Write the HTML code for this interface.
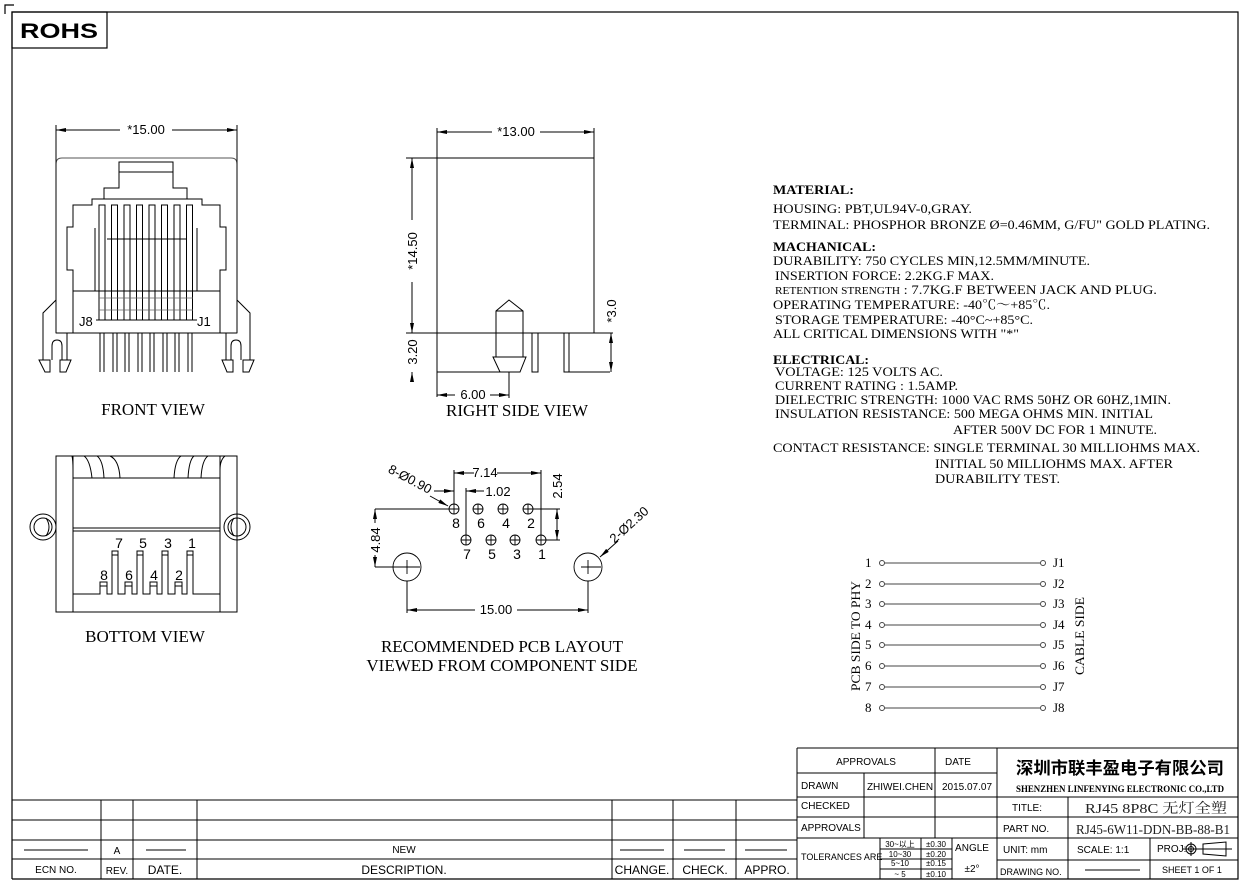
<!DOCTYPE html>
<html><head><meta charset="utf-8"><style>
html,body{margin:0;padding:0;background:#fff;}
svg{display:block;}
.s{font-family:"Liberation Serif","Noto Serif CJK SC",serif;fill:#000;}
.a{font-family:"Liberation Sans","Noto Sans CJK SC",sans-serif;fill:#000;}
</style></head><body>
<svg width="1250" height="889" viewBox="0 0 1250 889" xmlns="http://www.w3.org/2000/svg">
<defs>
<marker id="ar" viewBox="0 0 10 4" refX="10" refY="2" markerWidth="10" markerHeight="4" orient="auto-start-reverse" markerUnits="userSpaceOnUse"><path d="M0,0 L10,2 L0,4 z" fill="#000"/></marker>
</defs>
<g fill="none" stroke="#000" stroke-width="1">
<path d="M5,14 V5 H14" stroke-width="1.2"/>
<path d="M12,879 V12 H1238 V879 H12" stroke-width="1.2"/>
<rect x="12" y="12" width="95" height="36" stroke-width="1.2"/>

<line x1="56" y1="125" x2="56" y2="160"/><line x1="237" y1="125" x2="237" y2="160"/>
<line x1="56" y1="130" x2="120" y2="130" marker-start="url(#ar)"/><line x1="172" y1="130" x2="237" y2="130" marker-end="url(#ar)"/>
<path d="M56,333 V164 Q56,158 62,158 H231 Q237,158 237,164 V333 Z" stroke="#555"/>
<line x1="56" y1="333" x2="237" y2="333"/>
<line x1="56" y1="158" x2="56" y2="333"/><line x1="237" y1="158" x2="237" y2="333"/>
<path d="M73,333 V291 H220 V333"/>
<path d="M73,291 L73,270 L67,270 L67,227 L73,227 L73,205 L92,205 L92,199 L104,199 L104,188 L119,188 L119,162 L173,162 L173,188 L187,188 L187,199 L202,199 L202,205 L220,205 L220,227 L226,227 L226,270 L220,270 L220,291"/>
<line x1="119" y1="172" x2="173" y2="172"/>
<line x1="104" y1="199" x2="187" y2="199"/>
<line x1="95" y1="228" x2="95" y2="291"/><line x1="197" y1="228" x2="197" y2="291"/>
<line x1="107" y1="239" x2="186" y2="239"/>
<rect x="99" y="205" width="6" height="115"/><rect x="111.5" y="205" width="6" height="115"/><rect x="124" y="205" width="6" height="115"/><rect x="136.5" y="205" width="6" height="115"/><rect x="149" y="205" width="6" height="115"/><rect x="161.5" y="205" width="6" height="115"/><rect x="174" y="205" width="6" height="115"/><rect x="186.5" y="205" width="6" height="115"/>
<path d="M99,298 H193 M99,310 H193" stroke="#666" stroke-width="0.7"/>
<line x1="96" y1="320" x2="197" y2="320"/>
<path d="M100,333V372M104,333V372M113,333V372M117,333V372M125,333V372M129,333V372M138,333V372M142,333V372M150,333V372M154,333V372M163,333V372M167,333V372M175,333V372M179,333V372M188,333V372M192,333V372"/>
<path d="M56,300 L43,313 V360 M67,333 V360"/>
<path d="M52,360 V346 Q52,340 57,340 Q62,340 62,346 V360"/>
<path d="M39,360 H50 V372 H45 Z M60,360 H71 L66,372 H60 Z"/>
<path d="M237,300 L250,313 V360 M226,333 V360"/>
<path d="M231,360 V346 Q231,340 236,340 Q241,340 241,346 V360"/>
<path d="M222,360 H233 V372 H227 Z M243,360 H254 L249,372 H243 Z"/>

<line x1="437" y1="128" x2="437" y2="158"/><line x1="594" y1="128" x2="594" y2="158"/>
<line x1="437" y1="132" x2="492" y2="132" marker-start="url(#ar)"/><line x1="540" y1="132" x2="594" y2="132" marker-end="url(#ar)"/>
<rect x="437" y="158" width="157" height="175"/>
<line x1="406" y1="158" x2="437" y2="158"/><line x1="406" y1="333" x2="437" y2="333"/>
<line x1="412" y1="158" x2="412" y2="220" marker-start="url(#ar)"/><line x1="412" y1="282" x2="412" y2="333" marker-end="url(#ar)"/>
<line x1="412" y1="372" x2="412" y2="380" marker-start="url(#ar)"/>
<path d="M437,333 V397 M437,372 H520 M565,372 H610 M594,333 H613"/>
<path d="M496,357 V311 L509,300 L523,311 V357 M496,311 H523"/>
<path d="M493,357 H526 L520,372 H500 Z"/>
<rect x="532" y="333" width="6" height="39"/><rect x="564" y="333" width="5" height="39"/>
<line x1="611" y1="333" x2="611" y2="372" marker-start="url(#ar)" marker-end="url(#ar)"/>
<line x1="509" y1="372" x2="509" y2="398"/>
<line x1="437" y1="395" x2="455" y2="395" marker-start="url(#ar)"/><line x1="490" y1="395" x2="509" y2="395" marker-end="url(#ar)"/>

<rect x="56" y="456" width="181" height="156"/>
<path d="M73,456 V612 M220,456 V612 M73,478 H220 M73,528 H220 M73,531 H220"/>
<path d="M72,456 Q73,460 73,470 M84,456 Q90,460 92,478 M97,456 Q103,460 104,478 M110,456 Q119,460 120,478 M174,478 Q175,460 181,456 M188,478 Q189,460 194,456 M201,478 Q202,460 208,456 M220,470 Q220,460 225,456"/>
<circle cx="43" cy="527" r="13"/><circle cx="43" cy="527" r="9"/><path d="M46,518 Q52,527 46,536"/>
<circle cx="237" cy="527" r="13"/><circle cx="237" cy="527" r="9"/><path d="M234,518 Q228,527 234,536"/>
<path d="M73,594 H100 V582 H107 V594 H112 V551 H118 V594 H125 V582 H132 V594 H137 V551 H143 V594 H150 V582 H157 V594 H162 V551 H168 V594 H175 V582 H182 V594 H187 V551 H193 V594 H220"/>
<path d="M100,586 H107 M112,555 H118 M125,586 H132 M137,555 H143 M150,586 H157 M162,555 H168 M175,586 H182 M187,555 H193"/>

<g stroke-width="0.9">
<circle cx="454" cy="509" r="5"/><path d="M449,509H459M454,504V514"/>
<circle cx="478" cy="509" r="5"/><path d="M473,509H483M478,504V514"/>
<circle cx="503" cy="509" r="5"/><path d="M498,509H508M503,504V514"/>
<circle cx="528" cy="509" r="5"/><path d="M523,509H533M528,504V514"/>
<circle cx="466" cy="540" r="5"/><path d="M461,540H471M466,535V545"/>
<circle cx="491" cy="540" r="5"/><path d="M486,540H496M491,535V545"/>
<circle cx="515" cy="540" r="5"/><path d="M510,540H520M515,535V545"/>
<circle cx="541" cy="540" r="5"/><path d="M536,540H546M541,535V545"/>
<circle cx="407" cy="567" r="14"/><path d="M400,567H420M407,560V574"/>
<circle cx="588" cy="567" r="14"/><path d="M581,567H601M588,560V574"/>
</g>
<path d="M454,470 V504 M541,470 V535 M466,488 V535 M528,509 H560 M546,540 H560 M375,509 H449 M375,567 H400 M407,581 V613 M588,581 V613"/>
<line x1="454" y1="473" x2="474" y2="473" marker-start="url(#ar)"/><line x1="497" y1="473" x2="541" y2="473" marker-end="url(#ar)"/>
<line x1="466" y1="491" x2="484" y2="491" marker-start="url(#ar)"/>
<line x1="434" y1="491" x2="454" y2="491" marker-end="url(#ar)"/>
<line x1="557" y1="509" x2="557" y2="540" marker-start="url(#ar)" marker-end="url(#ar)"/>
<line x1="375" y1="509" x2="375" y2="523" marker-start="url(#ar)"/><line x1="375" y1="555" x2="375" y2="567" marker-end="url(#ar)"/>
<line x1="407" y1="610" x2="475" y2="610" marker-start="url(#ar)"/><line x1="517" y1="610" x2="588" y2="610" marker-end="url(#ar)"/>
<line x1="430" y1="496" x2="448" y2="506" marker-end="url(#ar)"/>
<line x1="618" y1="541" x2="600" y2="557" marker-end="url(#ar)"/>

<g stroke="#444">
<path d="M885,563H1040M885,584H1040M885,604H1040M885,625H1040M885,645H1040M885,666H1040M885,687H1040M885,708H1040"/>
<circle cx="882" cy="563" r="2.5"/><circle cx="882" cy="584" r="2.5"/><circle cx="882" cy="604" r="2.5"/><circle cx="882" cy="625" r="2.5"/><circle cx="882" cy="645" r="2.5"/><circle cx="882" cy="666" r="2.5"/><circle cx="882" cy="687" r="2.5"/><circle cx="882" cy="708" r="2.5"/>
<circle cx="1043" cy="563" r="2.5"/><circle cx="1043" cy="584" r="2.5"/><circle cx="1043" cy="604" r="2.5"/><circle cx="1043" cy="625" r="2.5"/><circle cx="1043" cy="645" r="2.5"/><circle cx="1043" cy="666" r="2.5"/><circle cx="1043" cy="687" r="2.5"/><circle cx="1043" cy="708" r="2.5"/>
</g>

<path d="M12,800 H797 M12,820 H797 M12,840 H797 M12,859 H797 M101,800 V879 M133,800 V879 M197,800 V879 M612,800 V879 M673,800 V879 M736,800 V879 M797,748 V879"/>
<path d="M24,850H88M146,850H186M620,850H664M684,850H725M745,850H787"/>

<path d="M797,748 H1238 M797,773 H997 M797,797 H1238 M797,817 H1238 M797,838 H1238 M997,860 H1238 M864,773 V838 M935,748 V838 M997,748 V879 M1068,797 V879 M1150,838 V879 M880,838 V879 M921,838 V879 M952,838 V879 M880,849 H952 M880,859 H952 M880,869 H952"/>
<path d="M1085,870H1140"/>
<circle cx="1191" cy="849" r="5"/><circle cx="1191" cy="849" r="2.5"/><path d="M1183,849H1200M1191,842V856M1203,844 L1226,842 V856 L1203,854 Z M1200,849H1232"/>
</g>

<g class="a">
<text x="59" y="38" font-size="21" font-weight="bold" textLength="78" lengthAdjust="spacingAndGlyphs" text-anchor="middle">ROHS</text>
<text x="146" y="134" font-size="13" text-anchor="middle">*15.00</text>
<text x="79" y="326" font-size="13">J8</text><text x="197" y="326" font-size="13">J1</text>
<text x="516" y="136" font-size="13" text-anchor="middle">*13.00</text>
<text x="473" y="399" font-size="13" text-anchor="middle">6.00</text>
<text transform="translate(417,251) rotate(-90)" font-size="13" text-anchor="middle">*14.50</text>
<text transform="translate(417,352) rotate(-90)" font-size="13" text-anchor="middle">3.20</text>
<text transform="translate(616,311) rotate(-90)" font-size="13" text-anchor="middle">*3.0</text>
<g font-size="14" text-anchor="middle">
<text x="119" y="548">7</text><text x="143" y="548">5</text><text x="168" y="548">3</text><text x="192" y="548">1</text>
<text x="104" y="580">8</text><text x="129" y="580">6</text><text x="154" y="580">4</text><text x="179" y="580">2</text>
<text x="456" y="528">8</text><text x="481" y="528">6</text><text x="506" y="528">4</text><text x="531" y="528">2</text>
<text x="467" y="559">7</text><text x="492" y="559">5</text><text x="517" y="559">3</text><text x="542" y="559">1</text>
</g>
<text x="485" y="477" font-size="13" text-anchor="middle">7.14</text>
<text x="498" y="496" font-size="13" text-anchor="middle">1.02</text>
<text transform="translate(562,486) rotate(-90)" font-size="13" text-anchor="middle">2.54</text>
<text transform="translate(380,540) rotate(-90)" font-size="13" text-anchor="middle">4.84</text>
<text x="496" y="614" font-size="13" text-anchor="middle">15.00</text>
<text transform="translate(408,483) rotate(28)" font-size="13" text-anchor="middle">8-Ø0.90</text>
<text transform="translate(632,528) rotate(-42)" font-size="13" text-anchor="middle">2-Ø2.30</text>
</g>
<g class="s" font-size="17" text-anchor="middle">
<text x="153" y="415">FRONT VIEW</text>
<text x="517" y="416">RIGHT SIDE VIEW</text>
<text x="145" y="642">BOTTOM VIEW</text>
<text x="502" y="652">RECOMMENDED PCB LAYOUT</text>
<text x="502" y="671">VIEWED FROM COMPONENT SIDE</text>
</g>
<g class="s" font-size="13">
<text x="773" y="194" font-weight="bold" textLength="81" lengthAdjust="spacingAndGlyphs">MATERIAL:</text>
<text x="773" y="213" textLength="199" lengthAdjust="spacingAndGlyphs">HOUSING: PBT,UL94V-0,GRAY.</text>
<text x="773" y="229" textLength="437" lengthAdjust="spacingAndGlyphs">TERMINAL: PHOSPHOR BRONZE Ø=0.46MM, G/FU" GOLD PLATING.</text>
<text x="773" y="251" font-weight="bold" textLength="103" lengthAdjust="spacingAndGlyphs">MACHANICAL:</text>
<text x="773" y="265" textLength="317" lengthAdjust="spacingAndGlyphs">DURABILITY: 750 CYCLES MIN,12.5MM/MINUTE.</text>
<text x="775" y="280" textLength="219" lengthAdjust="spacingAndGlyphs">INSERTION FORCE: 2.2KG.F MAX.</text>
<text x="775" y="294" textLength="382" lengthAdjust="spacingAndGlyphs"><tspan font-size="10">RETENTION STRENGTH</tspan> : 7.7KG.F BETWEEN JACK AND PLUG.</text>
<text x="773" y="309" textLength="277" lengthAdjust="spacingAndGlyphs">OPERATING TEMPERATURE: -40℃～+85℃.</text>
<text x="775" y="324" textLength="258" lengthAdjust="spacingAndGlyphs">STORAGE TEMPERATURE: -40°C~+85°C.</text>
<text x="773" y="338" textLength="246" lengthAdjust="spacingAndGlyphs">ALL CRITICAL DIMENSIONS WITH "*"</text>
<text x="773" y="364" font-weight="bold" textLength="96" lengthAdjust="spacingAndGlyphs">ELECTRICAL:</text>
<text x="775" y="376" textLength="168" lengthAdjust="spacingAndGlyphs">VOLTAGE: 125 VOLTS AC.</text>
<text x="775" y="390" textLength="183" lengthAdjust="spacingAndGlyphs">CURRENT RATING : 1.5AMP.</text>
<text x="775" y="404" textLength="396" lengthAdjust="spacingAndGlyphs">DIELECTRIC STRENGTH: 1000 VAC RMS 50HZ OR 60HZ,1MIN.</text>
<text x="775" y="418" textLength="378" lengthAdjust="spacingAndGlyphs">INSULATION RESISTANCE: 500 MEGA OHMS MIN. INITIAL</text>
<text x="953" y="434" textLength="204" lengthAdjust="spacingAndGlyphs">AFTER 500V DC FOR 1 MINUTE.</text>
<text x="773" y="452" textLength="427" lengthAdjust="spacingAndGlyphs">CONTACT RESISTANCE: SINGLE TERMINAL 30 MILLIOHMS MAX.</text>
<text x="935" y="468" textLength="238" lengthAdjust="spacingAndGlyphs">INITIAL 50 MILLIOHMS MAX. AFTER</text>
<text x="935" y="483" textLength="125" lengthAdjust="spacingAndGlyphs">DURABILITY TEST.</text>
</g>
<g class="s" font-size="13">
<text x="865" y="567">1</text><text x="865" y="588">2</text><text x="865" y="608">3</text><text x="865" y="629">4</text><text x="865" y="649">5</text><text x="865" y="670">6</text><text x="865" y="691">7</text><text x="865" y="712">8</text>
<text x="1053" y="567">J1</text><text x="1053" y="588">J2</text><text x="1053" y="608">J3</text><text x="1053" y="629">J4</text><text x="1053" y="649">J5</text><text x="1053" y="670">J6</text><text x="1053" y="691">J7</text><text x="1053" y="712">J8</text>
<text transform="translate(860,636) rotate(-90)" text-anchor="middle" textLength="110" lengthAdjust="spacingAndGlyphs">PCB SIDE TO PHY</text>
<text transform="translate(1084,636) rotate(-90)" text-anchor="middle" textLength="78" lengthAdjust="spacingAndGlyphs">CABLE SIDE</text>
</g>
<g class="a" font-size="10">
<text x="56" y="873" text-anchor="middle">ECN  NO.</text>
<text x="117" y="854" text-anchor="middle">A</text>
<text x="117" y="874" text-anchor="middle">REV.</text>
<text x="165" y="874" text-anchor="middle" font-size="12">DATE.</text>
<text x="404" y="853" text-anchor="middle">NEW</text>
<text x="404" y="874" text-anchor="middle" font-size="12">DESCRIPTION.</text>
<text x="642" y="874" text-anchor="middle" font-size="12">CHANGE.</text>
<text x="705" y="874" text-anchor="middle" font-size="12">CHECK.</text>
<text x="767" y="874" text-anchor="middle" font-size="12">APPRO.</text>
<text x="866" y="765" text-anchor="middle">APPROVALS</text>
<text x="958" y="765" text-anchor="middle">DATE</text>
<text x="801" y="789">DRAWN</text>
<text x="900" y="790" text-anchor="middle">ZHIWEI.CHEN</text>
<text x="967" y="790" text-anchor="middle">2015.07.07</text>
<text x="801" y="809">CHECKED</text>
<text x="801" y="831">APPROVALS</text>
<text x="801" y="860" font-size="9">TOLERANCES  ARE</text>
<g font-size="8" text-anchor="middle">
<text x="900" y="847">30~以上</text><text x="900" y="857">10~30</text><text x="900" y="866">5~10</text><text x="900" y="877">~ 5</text>
<text x="936" y="847">±0.30</text><text x="936" y="857">±0.20</text><text x="936" y="866">±0.15</text><text x="936" y="877">±0.10</text>
</g>
<text x="972" y="851" text-anchor="middle">ANGLE</text>
<text x="972" y="872" text-anchor="middle">±2°</text>
<text x="1012" y="811">TITLE:</text>
<text x="1003" y="832">PART  NO.</text>
<text x="1003" y="853">UNIT:  mm</text>
<text x="1000" y="875" font-size="9">DRAWING  NO.</text>
<text x="1077" y="853">SCALE:    1:1</text>
<text x="1157" y="852">PROJ:</text>
<text x="1162" y="873" font-size="9">SHEET    1  OF  1</text>
</g>
<text x="1120" y="774" font-family="Liberation Sans, 'Noto Sans CJK SC', sans-serif" font-weight="bold" font-size="17" text-anchor="middle" textLength="208" lengthAdjust="spacingAndGlyphs">深圳市联丰盈电子有限公司</text>
<text x="1120" y="792" font-family="Liberation Serif, serif" font-weight="bold" font-size="9" text-anchor="middle" textLength="208" lengthAdjust="spacingAndGlyphs">SHENZHEN LINFENYING ELECTRONIC CO.,LTD</text>
<text x="1156" y="813" font-family="Liberation Serif, 'Noto Serif CJK SC', serif" font-size="14" text-anchor="middle" fill="#222" textLength="142" lengthAdjust="spacingAndGlyphs">RJ45 8P8C 无灯全塑</text>
<text x="1153" y="834" font-family="Liberation Serif, serif" font-size="14" text-anchor="middle" fill="#222" textLength="154" lengthAdjust="spacingAndGlyphs">RJ45-6W11-DDN-BB-88-B1</text>
</svg>
</body></html>
